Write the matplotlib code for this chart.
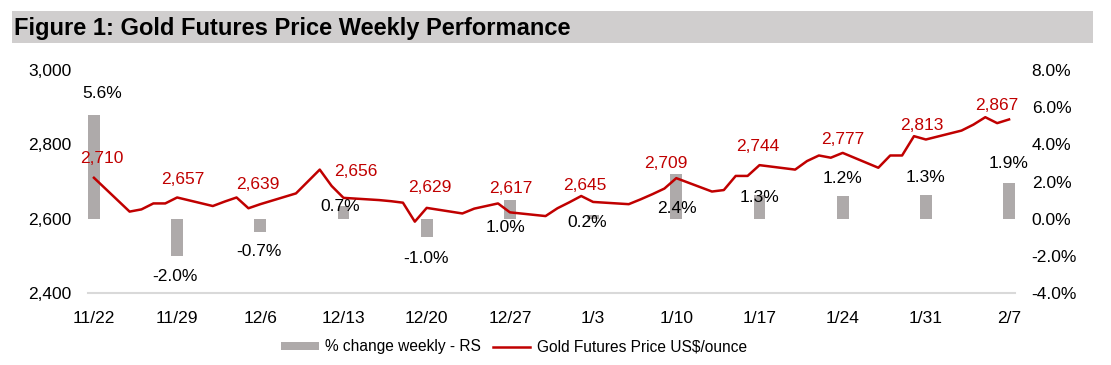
import pandas as pd
import matplotlib
matplotlib.use("Agg")
import matplotlib.pyplot as plt
from matplotlib.patches import Rectangle, Patch
from matplotlib.lines import Line2D

plt.rcParams['font.family'] = ['Liberation Sans', 'DejaVu Sans']

# daily gold futures price, every weekday 2024-11-22 .. 2025-02-07
days = pd.bdate_range("2024-11-22", "2025-02-07")
price = [2710,
         2619, 2625, 2641, 2641, 2657,
         2634, 2646, 2657, 2628, 2639,
         2668, 2700, 2732, 2688, 2656,
         2650, 2647, 2643, 2592, 2629,
         2614, 2627, 2634, 2641, 2617,
         2607, 2628, 2644, 2661, 2645,
         2639, 2652, 2666, 2681, 2709,
         2673, 2677, 2715, 2715, 2744,
         2732, 2755, 2770, 2764, 2777,
         2737, 2770, 2770, 2822, 2813,
         2837, 2853, 2873, 2857, 2867]

# weekly (Friday) values
weeks = pd.date_range("2024-11-22", "2025-02-07", freq="7D")
week_labels = ["11/22", "11/29", "12/6", "12/13", "12/20", "12/27",
               "1/3", "1/10", "1/17", "1/24", "1/31", "2/7"]
weekly_price = [2710, 2657, 2639, 2656, 2629, 2617, 2645, 2709, 2744, 2777, 2813, 2867]
weekly_pct = [5.6, -2.0, -0.7, 0.7, -1.0, 1.0, 0.2, 2.4, 1.3, 1.2, 1.3, 1.9]

# label nudges in pixels (x, y up)
price_lbl_dx = [8, 6, -3, 12, 3, 1, -8, -10, -2, 0, -4, -12]
price_lbl_dy = [19, 18, 20, 26, 20, 24, 16, 15, 19, 13, 14, 14]
pct_lbl_dx = [8, -2, -1, -3, -1, -4, -6, 1, 0, 0, 0, 0]
pct_lbl_dy = [21, -21, -20, -1, -21, -27, -8, -34, -3, 18, 17, 20]

red = "#c00000"
grey = "#aeaaaa"

fig = plt.figure(figsize=(11.11, 3.65), dpi=100)
fig.patches.append(Rectangle((12 / 1111, 1 - 43 / 365), 1081 / 1111, 32 / 365,
                             transform=fig.transFigure, facecolor="#d0cece",
                             edgecolor="none", zorder=0))
fig.text(14 / 1111, 1 - 28 / 365, "Figure 1: Gold Futures Price Weekly Performance",
         fontsize=17, fontweight="bold", va="center", ha="left")

ax = fig.add_axes([88 / 1111, 1 - 293 / 365, 927 / 1111, 223 / 365])
ax2 = ax.twinx()
ax.set_zorder(ax2.get_zorder() + 1)
ax.patch.set_visible(False)

# bars - right scale
ax2.bar(weeks, weekly_pct, width=1.0, color=grey, zorder=2)
ax2.set_ylim(-4, 8)
ax2.set_yticks([-4, -2, 0, 2, 4, 6, 8])
ax2.set_yticklabels([f"{v:.1f}%" for v in range(-4, 9, 2)])
for d, v, dx, dy in zip(weeks, weekly_pct, pct_lbl_dx, pct_lbl_dy):
    ax2.annotate(f"{v:.1f}%", (d, v), xytext=(dx, dy), textcoords="offset pixels",
                 ha="center", va="center", fontsize=12.5, color="black", zorder=3)

# price line - left scale
ax.plot(days, price, color=red, lw=1.8, zorder=4)
ax.set_ylim(2400, 3000)
ax.set_yticks([2400, 2600, 2800, 3000])
ax.set_yticklabels(["2,400", "2,600", "2,800", "3,000"])
for d, v, dx, dy in zip(weeks, weekly_price, price_lbl_dx, price_lbl_dy):
    ax.annotate(f"{v:,}", (d, v), xytext=(dx, dy), textcoords="offset pixels",
                ha="center", va="center", fontsize=12.5, color=red, zorder=5)

ax.set_xlim(weeks[0] - pd.Timedelta(hours=12), weeks[-1] + pd.Timedelta(hours=12))
ax.set_xticks(weeks)
ax.set_xticklabels(week_labels)

for a in (ax, ax2):
    for s in ("top", "left", "right", "bottom"):
        a.spines[s].set_visible(False)
    a.tick_params(length=0, labelsize=12.5)
ax.spines["bottom"].set_visible(True)
ax.spines["bottom"].set_color("#d9d9d9")
ax.spines["bottom"].set_linewidth(1.5)
ax.tick_params(axis="x", pad=13)
ax.tick_params(axis="y", pad=12)
ax2.tick_params(axis="y", pad=12)

handles = [Patch(facecolor=grey, edgecolor="none"),
           Line2D([], [], color=red, lw=1.8)]
fig.legend(handles, ["% change weekly - RS", "Gold Futures Price US$/ounce"],
           loc="center", bbox_to_anchor=(514 / 1111, 1 - 347 / 365), ncol=2,
           frameon=False, fontsize=11.2, handlelength=2.4, handleheight=0.5,
           columnspacing=0.8, handletextpad=0.4)

fig.savefig("out.png", dpi=100)
